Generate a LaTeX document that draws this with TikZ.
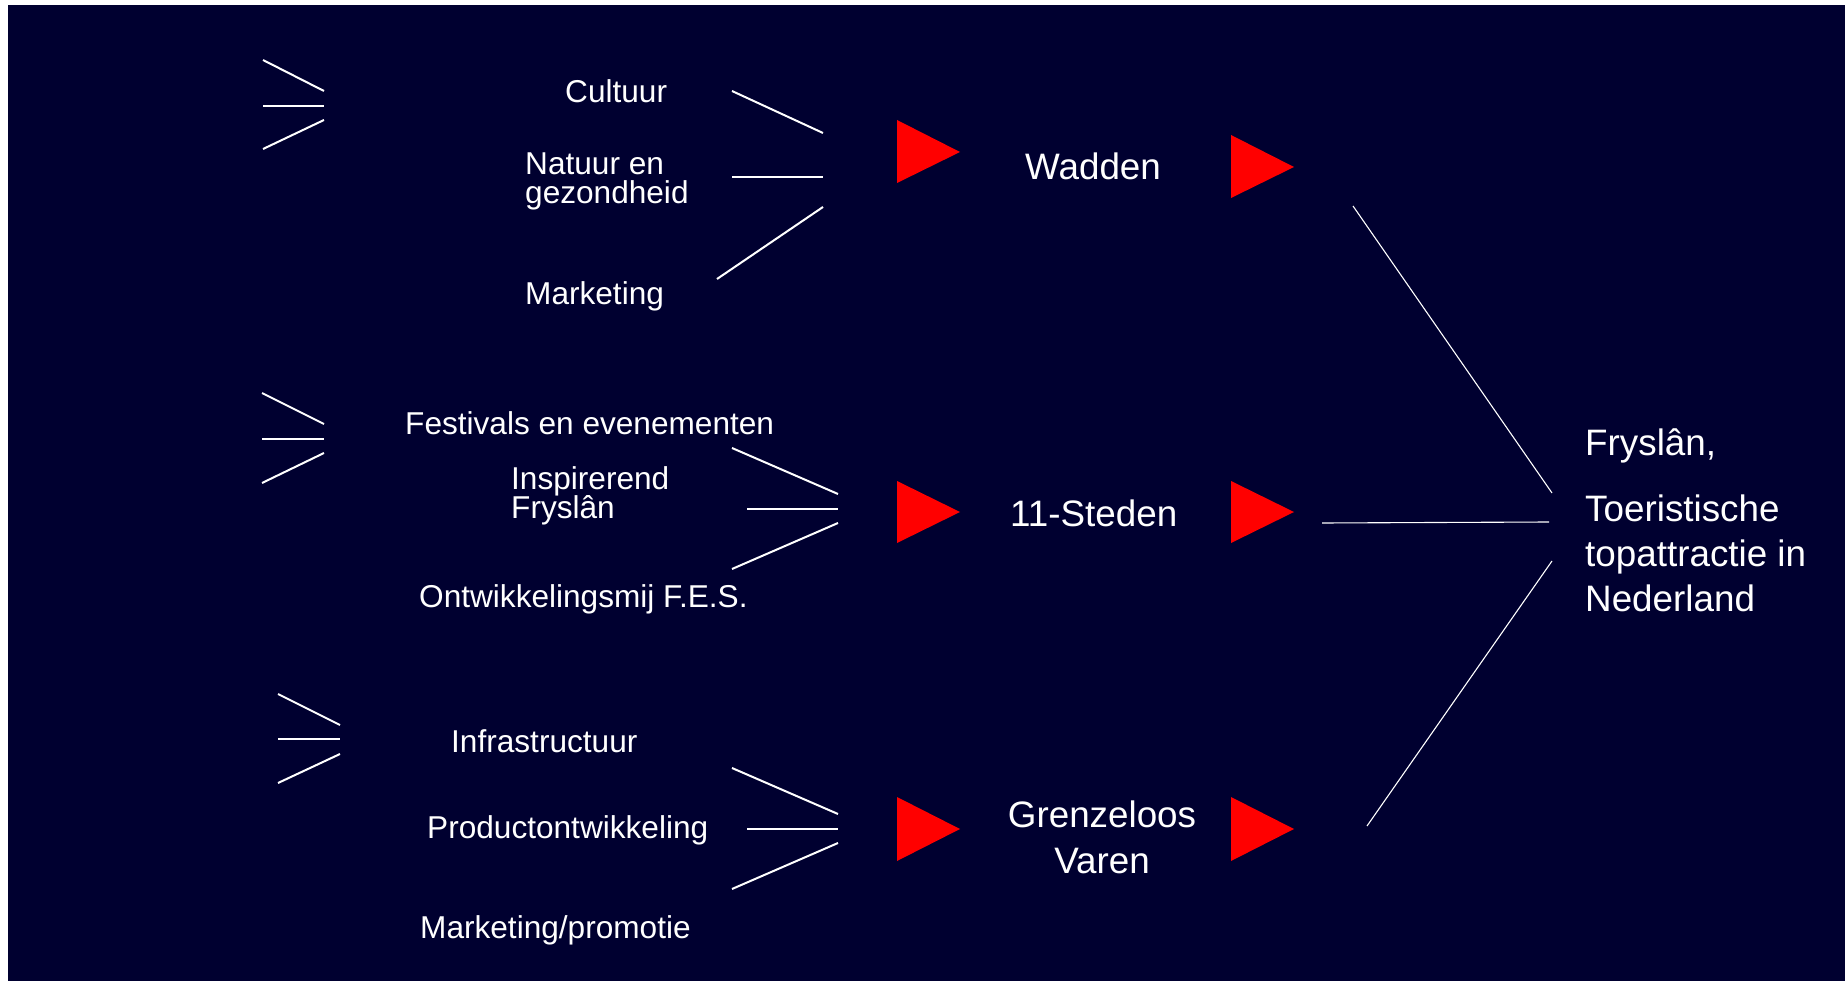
\documentclass[tikz,border=0pt]{standalone}
\usepackage{fontspec}
\setmainfont{Liberation Sans}
\definecolor{navy}{RGB}{0,0,48}
\begin{document}
\begin{tikzpicture}[x=1pt,y=-1pt,
  lbl/.style={text=white,inner sep=0pt,anchor=base west,font=\fontsize{31.6}{38}\selectfont},
  big/.style={text=white,inner sep=0pt,font=\fontsize{36.8}{45}\selectfont},
  wl/.style={draw=white,line width=2pt},
  thin/.style={draw=white,line width=1.1pt},
  tri/.style={fill=red}]
\useasboundingbox (0,0) rectangle (1845,981);
\fill[white] (0,0) rectangle (1845,981);
\fill[navy] (8,5) rectangle (1845,981);

% ---------- group 1 : Wadden ----------
\draw[wl] (263,60) -- (324,91);
\draw[wl] (263,106) -- (324,106);
\draw[wl] (263,149) -- (324,120);
\node[lbl] (cultuur) at (565,103) {Cultuur};
\node[lbl] (natuur1) at (525,175) {Natuur en};
\node[lbl] (natuur2) at (525,204) {gezondheid};
\node[lbl] (mark1) at (525,305) {Marketing};
\draw[wl] (732,91) -- (823,133);
\draw[wl] (732,177) -- (823,177);
\draw[wl] (717,279) -- (823,207);
\fill[tri] (897,120) -- (960,152) -- (897,183) -- cycle;
\node[big,anchor=base west] (wadden) at (1025,180) {Wadden};
\fill[tri] (1231,135) -- (1294,167) -- (1231,198) -- cycle;

% ---------- group 2 : 11-Steden ----------
\draw[wl] (262,393) -- (324,424);
\draw[wl] (262,439) -- (324,439);
\draw[wl] (262,483) -- (324,453);
\node[lbl] (fest) at (405,435) {Festivals en evenementen};
\node[lbl] (insp1) at (511,489) {Inspirerend};
\node[lbl] (insp2) at (511,518) {Fryslân};
\node[lbl] (ontw) at (419,607) {Ontwikkelingsmij F.E.S.};
\draw[wl] (732,448) -- (838,494);
\draw[wl] (747,509) -- (838,509);
\draw[wl] (732,569) -- (838,523);
\fill[tri] (897,481) -- (960,512) -- (897,543) -- cycle;
\node[big,anchor=base west] (steden) at (1010,526) {11-Steden};
\fill[tri] (1231,481) -- (1294,512) -- (1231,543) -- cycle;

% ---------- group 3 : Grenzeloos Varen ----------
\draw[wl] (278,694) -- (340,725);
\draw[wl] (278,739) -- (340,739);
\draw[wl] (278,783) -- (340,754);
\node[lbl] (infra) at (451,752) {Infrastructuur};
\node[lbl] (prod) at (427,838) {Productontwikkeling};
\node[lbl] (markp) at (420,938) {Marketing/promotie};
\draw[wl] (732,768) -- (838,814);
\draw[wl] (747,829) -- (838,829);
\draw[wl] (732,889) -- (838,843);
\fill[tri] (897,797) -- (960,829) -- (897,861) -- cycle;
\node[big,anchor=base] (gren1) at (1102,827) {Grenzeloos};
\node[big,anchor=base] (gren2) at (1102,873) {Varen};
\fill[tri] (1231,797) -- (1294,829) -- (1231,861) -- cycle;

% ---------- right fan ----------
\draw[thin] (1353,206) -- (1552,493);
\draw[thin] (1322,523) -- (1549,522);
\draw[thin] (1367,826) -- (1552,561);
\node[big,anchor=base west] (fr1) at (1585,455) {Fryslân,};
\node[big,anchor=base west] (fr2) at (1585,521) {Toeristische};
\node[big,anchor=base west] (fr3) at (1585,566) {topattractie in};
\node[big,anchor=base west] (fr4) at (1585,611) {Nederland};
\end{tikzpicture}
\end{document}
